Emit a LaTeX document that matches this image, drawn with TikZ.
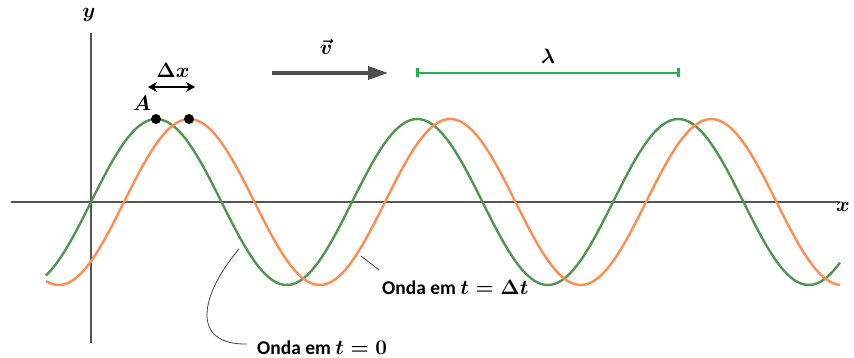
\documentclass[tikz,border=0pt]{standalone}
\usepackage{amsmath}
\usepackage{fontspec}
\setmainfont{Carlito}
\usetikzlibrary{arrows.meta}
\definecolor{wgreen}{RGB}{80,150,80}
\definecolor{worange}{RGB}{255,140,80}
\definecolor{lgreen}{RGB}{34,177,76}
\definecolor{axgray}{RGB}{85,85,85}
\definecolor{vgray}{RGB}{77,77,77}
\tikzset{
  axis/.style={axgray,line width=2.2pt},
  wave/.style={line width=2.4pt,smooth},
  lbl/.style={inner sep=0pt,font=\fontsize{19.5}{22}\selectfont\bfseries\boldmath},
  sym/.style={inner sep=0pt,font=\fontsize{21}{24}\selectfont\boldmath},
  leader/.style={black!75,line width=0.8pt},
  dotm/.style={circle,fill=black,inner sep=0pt,minimum size=10pt}
}
\begin{document}
\begin{tikzpicture}[x=1pt,y=-1pt]
\useasboundingbox (0,0) rectangle (854,358);
% axes
\coordinate (xl) at (11,202); \coordinate (xr) at (840,202);
\coordinate (yt) at (91,33); \coordinate (yb) at (91,343);
\draw[axis] (xl) -- (xr);
\draw[axis] (yt) -- (yb);
\node[sym] (ylab) at (89,15) {$y$};
\node[sym,anchor=east] (xlab) at (850,207) {$x$};
% waves
\draw[wave,wgreen] plot[domain=46:840,samples=240] (\x,{202-83*sin((\x-91)/261*360)});
\draw[wave,worange] plot[domain=46:840,samples=240] (\x,{202-83*sin((\x-124)/261*360)});
% dots
\node[dotm] (d1) at (156,119) {};
\node[dotm] (d2) at (189,119) {};
\node[sym] (A) at (142,103) {$A$};
% delta x
\coordinate (dxl) at (148,87); \coordinate (dxr) at (195,87);
\draw[line width=2.8pt,{Stealth[length=9pt,width=10pt]}-{Stealth[length=9pt,width=10pt]}] (dxl) -- (dxr);
\node[sym] (dx) at (173,70) {$\Delta x$};
% velocity
\coordinate (vl) at (272,73); \coordinate (vr) at (388,73);
\draw[vgray,line width=3.6pt,-{Triangle[length=20pt,width=13pt]}] (vl) -- (vr);
\node[sym] (v) at (326,47) {$\vec{v}$};
% lambda
\coordinate (ll) at (416,73); \coordinate (lr) at (680,73);
\draw[lgreen,line width=2.6pt,{Bar[width=9pt,line width=2.6pt]}-{Bar[width=9pt,line width=2.6pt]}] (ll) -- (lr);
\node[sym] (lam) at (548,56) {$\lambda$};
% labels
\node[lbl,anchor=west] (l1) at (382,287) {Onda em $t=\Delta t$};
\node[lbl,anchor=west] (l0) at (257,348) {Onda em $t=0$};
\coordinate (c1a) at (361,256); \coordinate (c1b) at (379,270);
\draw[leader] (c1a) -- (c1b);
\coordinate (c0a) at (239,249); \coordinate (c0b) at (247,344);
\draw[leader] (c0a) .. controls (200,295) and (190,345) .. (c0b);
\end{tikzpicture}
\end{document}
